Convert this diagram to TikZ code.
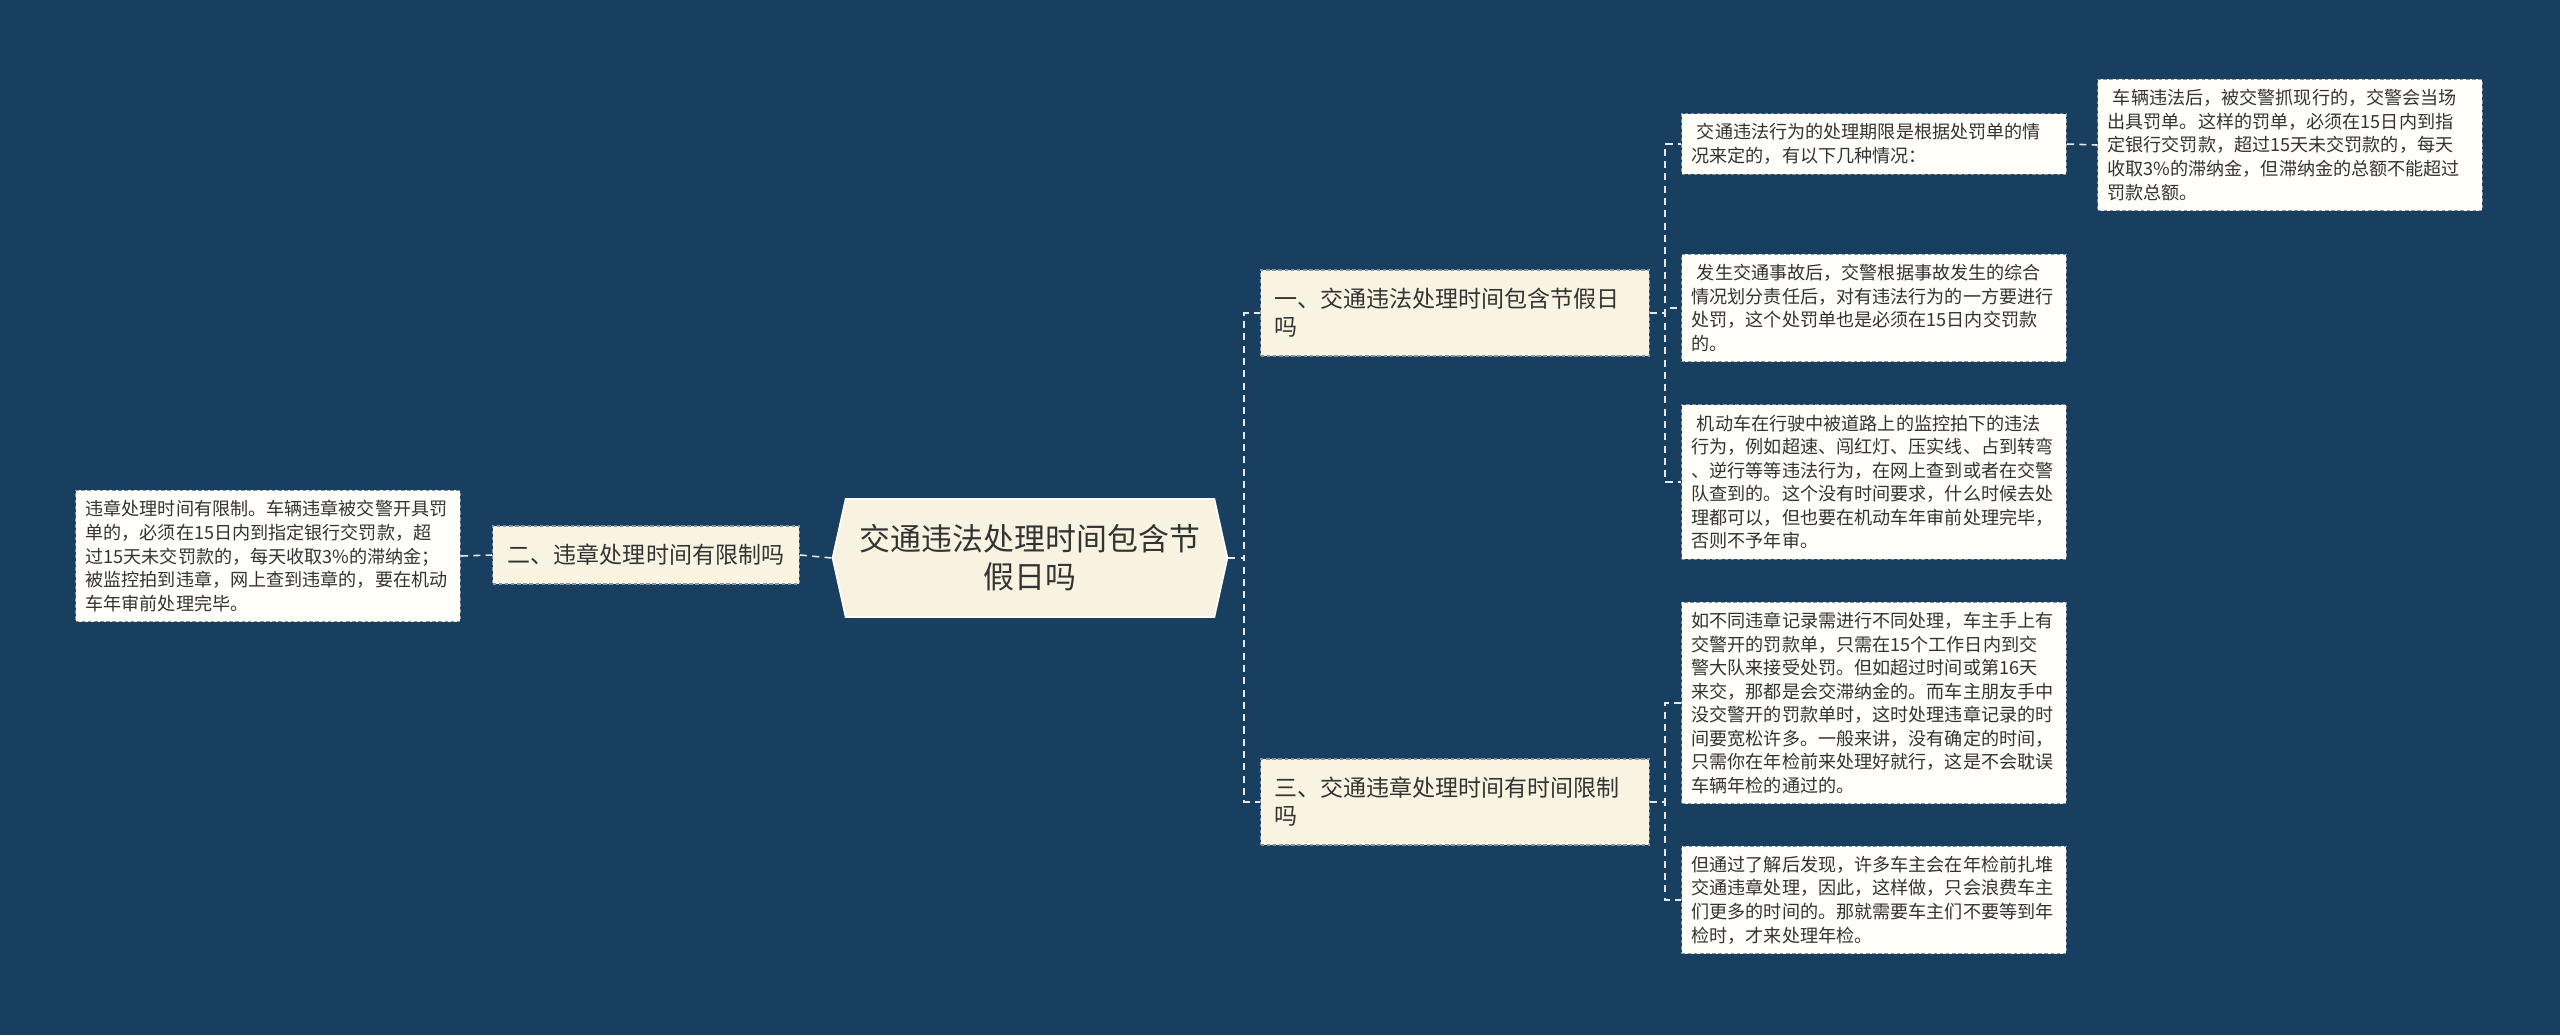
\documentclass[tikz,border=0pt]{standalone}
\usepackage{fontspec}
\newfontfamily\cjkfont{Noto Sans CJK SC}
\usepackage{tikz}
\usetikzlibrary{shapes.symbols, positioning}
\usepackage{xcolor}
\definecolor{bgblue}{HTML}{183F5F}
\definecolor{rootfill}{HTML}{F8F3E1}
\definecolor{branchfill}{HTML}{F9F4E1}
\definecolor{leaffill}{HTML}{FFFEF8}
\definecolor{boxline}{HTML}{8794A0}
\definecolor{linkline}{HTML}{E4E8EC}
\definecolor{textgray}{HTML}{333333}

\begin{document}
\begin{tikzpicture}[x=0.02cm, y=-0.02cm,
    root/.style = {signal, signal to=west and east, signal pointer angle=155, draw=white, fill=rootfill, line width=0.9pt, align=center, font=\cjkfont\fontsize{17.6pt}{21.6pt}\selectfont, text=textgray, text width=6.9cm, minimum width=7.9cm, minimum height=2.36cm, inner sep=0pt},
    branch/.style = {rectangle, draw=boxline, fill=branchfill, dash pattern=on 2pt off 1.5pt, line width=0.6pt, align=left, font=\cjkfont\fontsize{13.1pt}{15.9pt}\selectfont, text=textgray, inner xsep=0.27cm, inner ysep=0pt},
    leaf/.style = {rectangle, draw=boxline, fill=leaffill, dash pattern=on 2pt off 1.5pt, line width=0.6pt, align=left, font=\cjkfont\fontsize{10.3pt}{13.4pt}\selectfont, text=textgray, text width=7.3cm, inner xsep=0.2cm, inner ysep=0.2cm},
    link/.style = {draw=linkline, line width=0.9pt, dash pattern=on 4pt off 3pt}
]

% Background
\fill [bgblue] (0,0) rectangle (2560,1035);

% Root Node
\node (root) [root, at={(1030,558)}] {交通违法处理时间包含节\\假日吗};

% Level 1 Nodes
\node (l1_limit) [branch, at={(646,555)}, text width=5.6cm, minimum height=1.16cm, align=center] {二、违章处理时间有限制吗};
\node (l1_holiday) [branch, at={(1455,313)}, text width=7.24cm, minimum height=1.72cm] {一、交通违法处理时间包含节假日\\吗};
\node (l1_period) [branch, at={(1455,802)}, text width=7.24cm, minimum height=1.72cm] {三、交通违章处理时间有时间限制\\吗};

% Left: time limit
\node (l2_rule) [leaf, at={(268,556)}] {违章处理时间有限制。车辆违章被交警开具罚\\单的，必须在15日内到指定银行交罚款，超\\过15天未交罚款的，每天收取3\%的滞纳金；\\被监控拍到违章，网上查到违章的，要在机动\\车年审前处理完毕。};

% Right top: holidays
\node (l2_ticket) [leaf, at={(1874,144)}] {\hspace*{0.3em}交通违法行为的处理期限是根据处罚单的情\\况来定的，有以下几种情况：};
\node (l3_spot) [leaf, at={(2290,145)}] {\hspace*{0.3em}车辆违法后，被交警抓现行的，交警会当场\\出具罚单。这样的罚单，必须在15日内到指\\定银行交罚款，超过15天未交罚款的，每天\\收取3\%的滞纳金，但滞纳金的总额不能超过\\罚款总额。};
\node (l2_accident) [leaf, at={(1874,308)}] {\hspace*{0.3em}发生交通事故后，交警根据事故发生的综合\\情况划分责任后，对有违法行为的一方要进行\\处罚，这个处罚单也是必须在15日内交罚款\\的。};
\node (l2_camera) [leaf, at={(1874,482)}] {\hspace*{0.3em}机动车在行驶中被道路上的监控拍下的违法\\行为，例如超速、闯红灯、压实线、占到转弯\\、逆行等等违法行为，在网上查到或者在交警\\队查到的。这个没有时间要求，什么时候去处\\理都可以，但也要在机动车年审前处理完毕，\\否则不予年审。};

% Right bottom: period
\node (l2_record) [leaf, at={(1874,703)}] {如不同违章记录需进行不同处理，车主手上有\\交警开的罚款单，只需在15个工作日内到交\\警大队来接受处罚。但如超过时间或第16天\\来交，那都是会交滞纳金的。而车主朋友手中\\没交警开的罚款单时，这时处理违章记录的时\\间要宽松许多。一般来讲，没有确定的时间，\\只需你在年检前来处理好就行，这是不会耽误\\车辆年检的通过的。};
\node (l2_rush) [leaf, at={(1874,900)}] {但通过了解后发现，许多车主会在年检前扎堆\\交通违章处理，因此，这样做，只会浪费车主\\们更多的时间的。那就需要车主们不要等到年\\检时，才来处理年检。};

% Connections
\draw [link] (l2_rule.east) -- (l1_limit.west);
\draw [link] (l1_limit.east) -- (root.west);
\draw [link] (root.east) -- ++(16,0) |- (l1_holiday.west);
\draw [link] (root.east) -- ++(16,0) |- (l1_period.west);

\draw [link] (l1_holiday.east) -- ++(15,0) |- (l2_ticket.west);
\draw [link] (l1_holiday.east) -- ++(15,0) |- (l2_accident.west);
\draw [link] (l1_holiday.east) -- ++(15,0) |- (l2_camera.west);
\draw [link] (l2_ticket.east) -- (l3_spot.west);

\draw [link] (l1_period.east) -- ++(15,0) |- (l2_record.west);
\draw [link] (l1_period.east) -- ++(15,0) |- (l2_rush.west);

\end{tikzpicture}
\end{document}
